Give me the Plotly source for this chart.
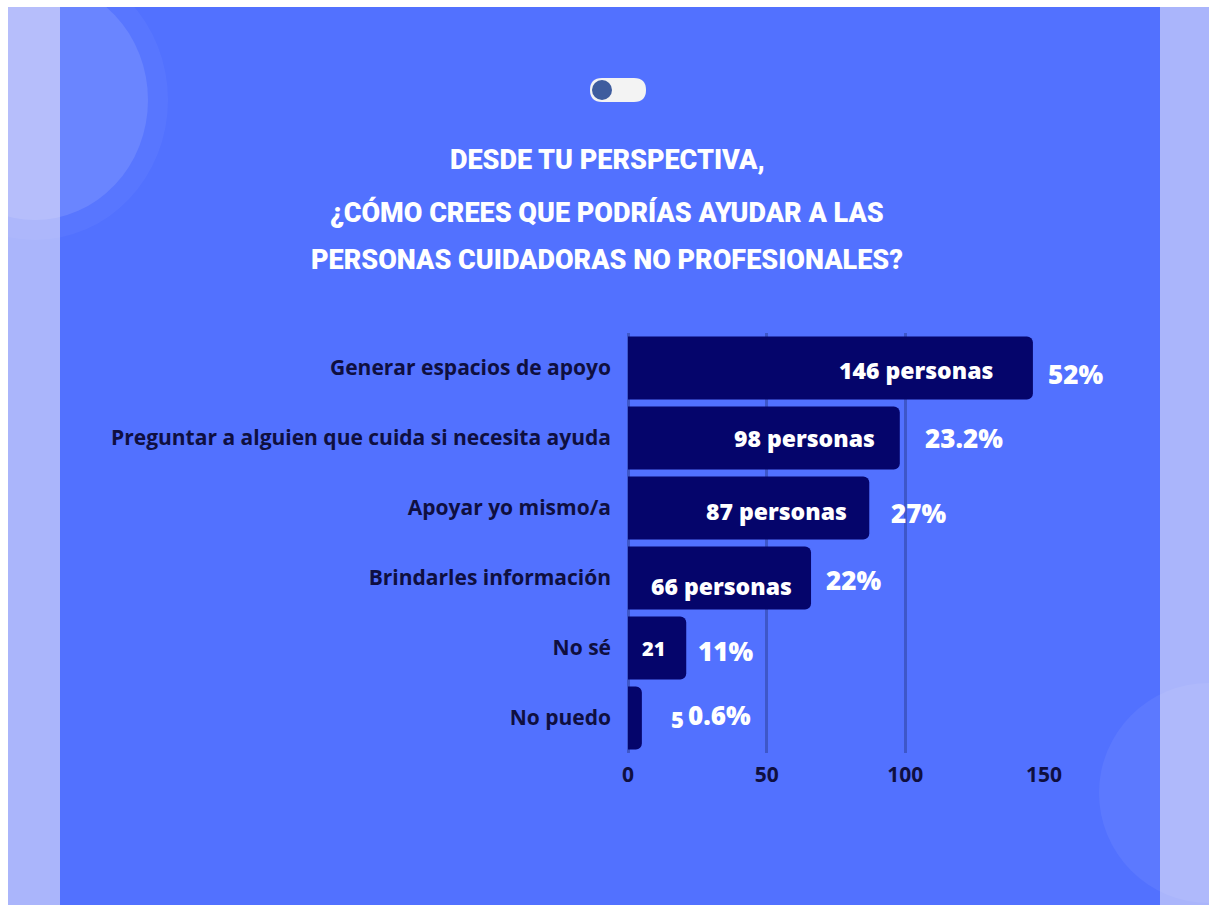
import plotly.graph_objects as go

# Survey answers, top to bottom
categories = [
    "Generar espacios de apoyo",
    "Preguntar a alguien que cuida si necesita ayuda",
    "Apoyar yo mismo/a",
    "Brindarles información",
    "No sé",
    "No puedo",
]
counts = [146, 98, 87, 66, 21, 5]
count_labels = ["146 personas", "98 personas", "87 personas", "66 personas", "21", "5"]
percent_labels = ["52%", "23.2%", "27%", "22%", "11%", "0.6%"]
x_ticks = [0, 50, 100, 150]

title_lines = [
    "DESDE TU PERSPECTIVA,",
    "¿CÓMO CREES QUE PODRÍAS AYUDAR A LAS",
    "PERSONAS CUIDADORAS NO PROFESIONALES?",
]

# Canvas and plot-area geometry (pixels)
W, H = 1209, 905
PL, PR, PT, PB = 628, 1044, 333, 753

BLUE = "#5271FF"
LIGHT = "#AAB5FB"
NAVY = "#05056B"
INK = "#0F0F40"
GRID = "#3E57C9"
BODY_FONT = "Open Sans, Noto Sans, sans-serif"
TITLE_FONT = "Roboto, Liberation Sans, sans-serif"


def px(x):
    return (x - PL) / (PR - PL)


def py(y):
    return (PB - y) / (PB - PT)


fig = go.Figure(
    go.Bar(
        x=counts,
        y=categories,
        orientation="h",
        marker=dict(color=NAVY, line=dict(width=0)),
        hoverinfo="skip",
    )
)

shapes = [
    # side panels and central blue card
    dict(type="rect", xref="paper", yref="paper", x0=px(8), x1=px(60), y0=py(905), y1=py(7),
         fillcolor=LIGHT, line=dict(width=0), layer="below"),
    dict(type="rect", xref="paper", yref="paper", x0=px(1160), x1=px(1209), y0=py(905), y1=py(7),
         fillcolor=LIGHT, line=dict(width=0), layer="below"),
    dict(type="rect", xref="paper", yref="paper", x0=px(60), x1=px(1160), y0=py(905), y1=py(7),
         fillcolor=BLUE, line=dict(width=0), layer="below"),
    # decorative translucent circles
    dict(type="circle", xref="paper", yref="paper", x0=px(35 - 133), x1=px(35 + 133),
         y0=py(100 + 140), y1=py(100 - 140),
         fillcolor="rgba(255,255,255,0.04)", line=dict(width=0), layer="below"),
    dict(type="circle", xref="paper", yref="paper", x0=px(35 - 113), x1=px(35 + 113),
         y0=py(100 + 120), y1=py(100 - 120),
         fillcolor="rgba(255,255,255,0.11)", line=dict(width=0), layer="below"),
    dict(type="circle", xref="paper", yref="paper", x0=px(1209 - 110), x1=px(1209 + 110),
         y0=py(793 + 110), y1=py(793 - 110),
         fillcolor="rgba(255,255,255,0.06)", line=dict(width=0), layer="below"),
]

# toggle switch above the title
tx0, tx1, ty0, ty1, r = 590, 646, 78, 102, 12
pill = (
    f"M {px(tx0 + r)} {py(ty0)} L {px(tx1 - r)} {py(ty0)} "
    f"Q {px(tx1)} {py(ty0)} {px(tx1)} {py(ty0 + r)} "
    f"Q {px(tx1)} {py(ty1)} {px(tx1 - r)} {py(ty1)} "
    f"L {px(tx0 + r)} {py(ty1)} "
    f"Q {px(tx0)} {py(ty1)} {px(tx0)} {py(ty0 + r)} "
    f"Q {px(tx0)} {py(ty0)} {px(tx0 + r)} {py(ty0)} Z"
)
shapes.append(dict(type="path", xref="paper", yref="paper", path=pill,
                   fillcolor="#F3F3F3", line=dict(width=0), layer="above"))
shapes.append(dict(type="circle", xref="paper", yref="paper",
                   x0=px(592), x1=px(612), y0=py(100), y1=py(80),
                   fillcolor="#3E5C9E", line=dict(width=0), layer="above"))

annotations = []
for text, yc in zip(title_lines, [160, 213, 260]):
    annotations.append(dict(
        text=text, xref="paper", yref="paper", x=px(607), y=py(yc),
        xanchor="center", yanchor="middle", showarrow=False,
        font=dict(family=TITLE_FONT, size=27, color="white", weight=900),
    ))

# count labels: right-aligned inside the bar end, the last one outside
count_shift = [-38, -23, -20, -17, -19, 27]
count_yshift = [-2, 0, -3, -8, 0, -1]
count_anchor = ["right", "right", "right", "right", "right", "left"]
count_size = [23, 23, 23, 23, 20, 22]
for cat, val, lab, dx, dy, anc, fs in zip(categories, counts, count_labels,
                                          count_shift, count_yshift, count_anchor, count_size):
    annotations.append(dict(
        text=lab, x=val, y=cat, xref="x", yref="y",
        xanchor=anc, yanchor="middle", xshift=dx, yshift=dy, showarrow=False,
        font=dict(family=BODY_FONT, size=fs, color="white", weight=800),
    ))

# share labels to the right of each bar
pct_shift = [13, 23, 20, 13, 10, 44]
pct_yshift = [-6, 0, -5, -2, -3, 3]
for cat, val, lab, dx, dy in zip(categories, counts, percent_labels, pct_shift, pct_yshift):
    annotations.append(dict(
        text=lab, x=val, y=cat, xref="x", yref="y",
        xanchor="left", yanchor="middle", xshift=dx, yshift=dy, showarrow=False,
        font=dict(family=BODY_FONT, size=26, color="white", weight=800),
    ))

fig.update_layout(
    width=W, height=H,
    margin=dict(l=PL, r=W - PR, t=PT, b=H - PB, pad=0),
    paper_bgcolor="white",
    plot_bgcolor="rgba(0,0,0,0)",
    bargap=0.1,
    barcornerradius=6,
    showlegend=False,
    shapes=shapes,
    annotations=annotations,
    xaxis=dict(
        range=[0, 150], tickvals=x_ticks, ticktext=[str(t) for t in x_ticks],
        showgrid=True, gridcolor=GRID, gridwidth=3,
        zeroline=True, zerolinecolor=GRID, zerolinewidth=3,
        showline=False, ticks="", ticklabelstandoff=7,
        tickfont=dict(family=BODY_FONT, size=21, color=INK, weight=700),
        fixedrange=True,
    ),
    yaxis=dict(
        autorange="reversed", showgrid=False, zeroline=False, showline=False,
        ticks="", ticklabelstandoff=16,
        tickfont=dict(family=BODY_FONT, size=21, color=INK, weight=700),
        fixedrange=True,
    ),
)

fig.write_html("out.html")
